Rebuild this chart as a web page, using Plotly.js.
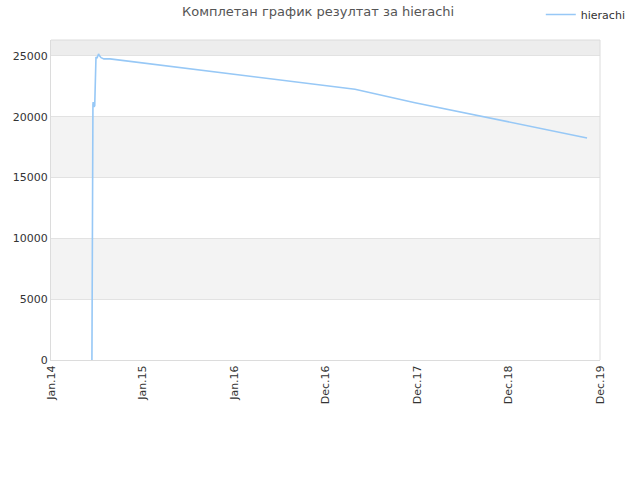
<!DOCTYPE html>
<html>
<head>
<meta charset="utf-8">
<script src="https://cdn.plot.ly/plotly-3.0.1.min.js"></script>
<style>
  html, body { margin: 0; padding: 0; background: #fff; }
  #chart { width: 640px; height: 480px; }
</style>
</head>
<body>
<div id="chart"></div>
<script>
// results of hierachi
var dates = ['2014-06-11', '2014-06-12', '2014-06-13', '2014-06-14', '2014-06-15',
             '2014-06-16', '2014-06-19', '2014-06-22', '2014-06-23', '2014-06-26',
             '2014-06-27', '2014-07-01', '2014-07-07', '2014-07-11', '2014-07-17',
             '2014-07-28', '2014-08-21', '2017-04-11', '2017-12-03', '2019-10-11'];
var scores = [0, 10300, 14000, 19900, 21000,
              21200, 20800, 20900, 22200, 24700,
              24900, 24800, 25150, 25000, 24850,
              24750, 24750, 22250, 21150, 18250];

var tickDates = ['2014-01-01', '2014-12-27', '2015-12-22', '2016-12-16', '2017-12-11', '2018-12-06', '2019-12-01'];
var tickLabels = ['Jan.14', 'Jan.15', 'Jan.16', 'Dec.16', 'Dec.17', 'Dec.18', 'Dec.19'];

var yMax = 26300;

var trace = {
  x: dates,
  y: scores,
  name: 'hierachi',
  type: 'scatter',
  mode: 'lines',
  line: { color: '#97c8f6', width: 1.6 }
};

// alternating bands behind the plot
var bands = [
  { y0: 5000, y1: 10000, c: '#f3f3f3' },
  { y0: 15000, y1: 20000, c: '#f3f3f3' },
  { y0: 25000, y1: yMax, c: '#ededed' }
];
var shapes = bands.map(function (b) {
  return { type: 'rect', xref: 'paper', yref: 'y', x0: 0, x1: 1, y0: b.y0, y1: b.y1,
           fillcolor: b.c, line: { width: 0 }, layer: 'below' };
});
shapes.push({ type: 'line', xref: 'paper', yref: 'paper', x0: 1, x1: 1, y0: 0, y1: 1,
              line: { color: '#dcdcdc', width: 1 } });
shapes.push({ type: 'line', xref: 'paper', yref: 'paper', x0: 0, x1: 1, y0: 1, y1: 1,
              line: { color: '#dcdcdc', width: 1 } });

var layout = {
  width: 640,
  height: 480,
  margin: { l: 51, r: 40, t: 40, b: 120, autoexpand: false },
  paper_bgcolor: '#ffffff',
  plot_bgcolor: '#ffffff',
  font: { family: 'DejaVu Sans, sans-serif', size: 11, color: '#333' },
  title: {
    text: 'Комплетан график резултат за hierachi',
    font: { size: 13, color: '#555' },
    x: 0.497, xref: 'container', y: 0.985, yref: 'container', yanchor: 'top'
  },
  showlegend: true,
  legend: {
    xref: 'container', yref: 'container',
    x: 0.845, xanchor: 'left', y: 1.007, yanchor: 'top',
    font: { size: 11, color: '#333' },
    bgcolor: 'rgba(0,0,0,0)'
  },
  xaxis: {
    type: 'date',
    range: ['2014-01-01', '2019-12-01'],
    tickmode: 'array',
    tickvals: tickDates,
    ticktext: tickLabels,
    tickangle: -90,
    showgrid: false,
    showline: true,
    linecolor: '#dcdcdc',
    zeroline: false,
    ticks: '',
    automargin: false,
    fixedrange: true
  },
  yaxis: {
    range: [0, yMax],
    tickvals: [0, 5000, 10000, 15000, 20000, 25000],
    tickformat: 'd',
    showgrid: true,
    gridcolor: '#e2e2e2',
    showline: true,
    linecolor: '#dcdcdc',
    zeroline: false,
    ticks: '',
    automargin: false,
    fixedrange: true
  },
  shapes: shapes
};

Plotly.newPlot('chart', [trace], layout, { displayModeBar: false, staticPlot: true });
</script>
</body>
</html>
